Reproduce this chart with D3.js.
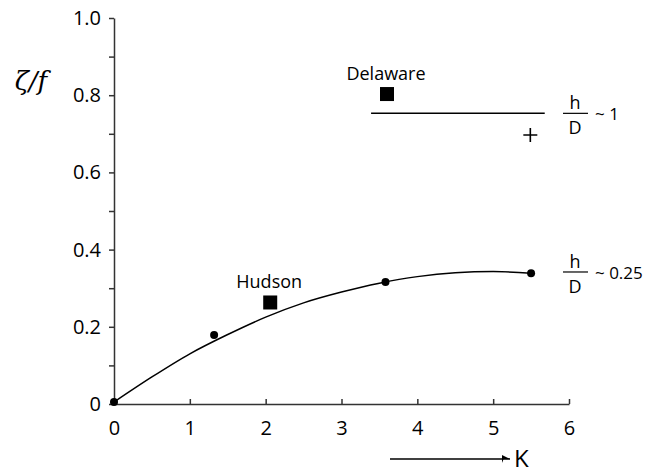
<!DOCTYPE html>
<html lang="en">
<head>
    <meta charset="UTF-8">
    <title>zeta/f versus K</title>
    <script src="https://d3js.org/d3.v7.min.js"></script>
    <style>
        body { margin: 0; background: #fff; overflow: hidden; }
        svg { display: block; }
        svg text { font-family: "Open Sans", "Noto Sans", sans-serif; fill: #000; }
        .axis path, .axis line { stroke: #333; stroke-width: 1.5px; }
        .axis text { font-size: 20px; }
        .fit { fill: none; stroke: #000; stroke-width: 1.5px; }
    </style>
</head>
<body>
    <svg class="chart"></svg>

    <script>
        // axis ticks
        var kTicks = [0, 1, 2, 3, 4, 5, 6];
        var zTicks = [0, 0.2, 0.4, 0.6, 0.8, 1.0];
        var zTickLabels = ["0", "0.2", "0.4", "0.6", "0.8", "1.0"];
        var zMinorTicks = [0.1, 0.3, 0.5, 0.7, 0.9];

        // fitted curve for h/D ~ 0.25
        var fitK = [0, 0.5, 1, 1.5, 2, 2.5, 3, 3.5, 4, 4.5, 5, 5.5];
        var fitZ = [0.005, 0.07, 0.13, 0.18, 0.225, 0.262, 0.29, 0.313, 0.33, 0.34, 0.343, 0.339];

        // model points (h/D ~ 0.25)
        var obsK = [0, 1.32, 3.58, 5.5];
        var obsZ = [0.005, 0.179, 0.316, 0.339];

        // estuaries
        var estNames = ["Hudson", "Delaware"];
        var estK = [2.06, 3.6];
        var estZ = [0.263, 0.803];

        // h/D ~ 1 line and point
        var deepK = [3.39, 5.68];
        var deepZ = [0.753, 0.753];
        var plusK = 5.49, plusZ = 0.697;

        var ratioLabels = ["~ 1", "~ 0.25"];
        var ratioZ = [0.753, 0.342];

        var svgWidth = 647, svgHeight = 475;
        var svg = d3.select('.chart')
                    .attr('width', svgWidth)
                    .attr('height', svgHeight);

        var x = d3.scaleLinear().domain([0, 6]).range([114, 569]);
        var y = d3.scaleLinear().domain([0, 1]).range([404, 18]);

        // y axis: major and minor ticks
        svg.append('g')
           .attr('class', 'axis')
           .attr('transform', 'translate(' + x(0) + ',0)')
           .call(d3.axisLeft(y).tickValues(zTicks).tickSize(5).tickSizeOuter(0).tickPadding(8)
                  .tickFormat(function(d, i) { return zTickLabels[i]; }));
        svg.append('g')
           .attr('class', 'axis')
           .attr('transform', 'translate(' + x(0) + ',0)')
           .call(d3.axisLeft(y).tickValues(zMinorTicks).tickSize(5).tickSizeOuter(0).tickFormat(''))
           .select('.domain').remove();

        // x axis, ticks pointing inwards
        svg.append('g')
           .attr('class', 'axis')
           .attr('transform', 'translate(0,' + y(0) + ')')
           .call(d3.axisBottom(x).tickValues(kTicks).tickSize(-5).tickSizeOuter(0).tickPadding(17)
                  .tickFormat(d3.format('d')));

        // axis titles
        svg.append('text')
           .attr('x', 31).attr('y', 90)
           .attr('text-anchor', 'middle')
           .style('font-family', '"DejaVu Serif", serif')
           .style('font-style', 'italic')
           .style('font-size', '26px')
           .text('ζ/f');

        svg.append('defs').append('marker')
           .attr('id', 'arrow')
           .attr('viewBox', '0 0 10 10')
           .attr('refX', 10).attr('refY', 5)
           .attr('markerWidth', 8).attr('markerHeight', 8)
           .attr('markerUnits', 'userSpaceOnUse')
           .attr('orient', 'auto')
           .append('path')
           .attr('d', 'M0,0L10,5L2,5L0,10z')
           .attr('fill', '#000');

        svg.append('line')
           .attr('x1', 390).attr('x2', 510)
           .attr('y1', 459).attr('y2', 459)
           .attr('stroke', '#000').attr('stroke-width', 1.3)
           .attr('marker-end', 'url(#arrow)');
        svg.append('text')
           .attr('x', 514).attr('y', 467)
           .style('font-size', '24px')
           .text('K');

        // fitted curve
        var line = d3.line()
                     .x(function(d, i) { return x(fitK[i]); })
                     .y(function(d) { return y(d); })
                     .curve(d3.curveMonotoneX);
        svg.append('path')
           .datum(fitZ)
           .attr('class', 'fit')
           .attr('d', line);

        svg.selectAll('.obs')
           .data(obsZ)
           .enter().append('circle')
           .attr('class', 'obs')
           .attr('cx', function(d, i) { return x(obsK[i]); })
           .attr('cy', function(d) { return y(d); })
           .attr('r', 4)
           .attr('fill', '#000');

        // h/D ~ 1
        svg.append('line')
           .attr('x1', x(deepK[0])).attr('x2', x(deepK[1]))
           .attr('y1', y(deepZ[0])).attr('y2', y(deepZ[1]))
           .attr('stroke', '#000').attr('stroke-width', 1.5);
        svg.append('path')
           .attr('d', 'M' + (x(plusK) - 7) + ',' + y(plusZ) + 'h14M' + x(plusK) + ',' + (y(plusZ) - 7) + 'v14')
           .attr('stroke', '#000').attr('stroke-width', 1.6);

        // estuaries
        svg.selectAll('.est')
           .data(estZ)
           .enter().append('rect')
           .attr('class', 'est')
           .attr('x', function(d, i) { return x(estK[i]) - 7; })
           .attr('y', function(d) { return y(d) - 7; })
           .attr('width', 14).attr('height', 14)
           .attr('fill', '#000');
        svg.selectAll('.est-label')
           .data(estNames)
           .enter().append('text')
           .attr('class', 'est-label')
           .attr('x', function(d, i) { return x(estK[i]) - 1; })
           .attr('y', function(d, i) { return y(estZ[i]) - 14; })
           .attr('text-anchor', 'middle')
           .style('font-size', '18px')
           .text(function(d) { return d; });

        // h/D labels
        var frac = svg.selectAll('.frac')
           .data(ratioLabels)
           .enter().append('g')
           .attr('class', 'frac')
           .attr('transform', function(d, i) { return 'translate(575,' + y(ratioZ[i]) + ')'; });
        frac.append('text').attr('y', -4).attr('text-anchor', 'middle').style('font-size', '18px').text('h');
        frac.append('line').attr('x1', -12).attr('x2', 13).attr('y1', 0).attr('y2', 0)
            .attr('stroke', '#000').attr('stroke-width', 1.2);
        frac.append('text').attr('y', 21).attr('text-anchor', 'middle').style('font-size', '18px').text('D');
        frac.append('text').attr('x', 20).attr('y', 7).style('font-size', '17px').text(function(d) { return d; });
    </script>
</body>
</html>
